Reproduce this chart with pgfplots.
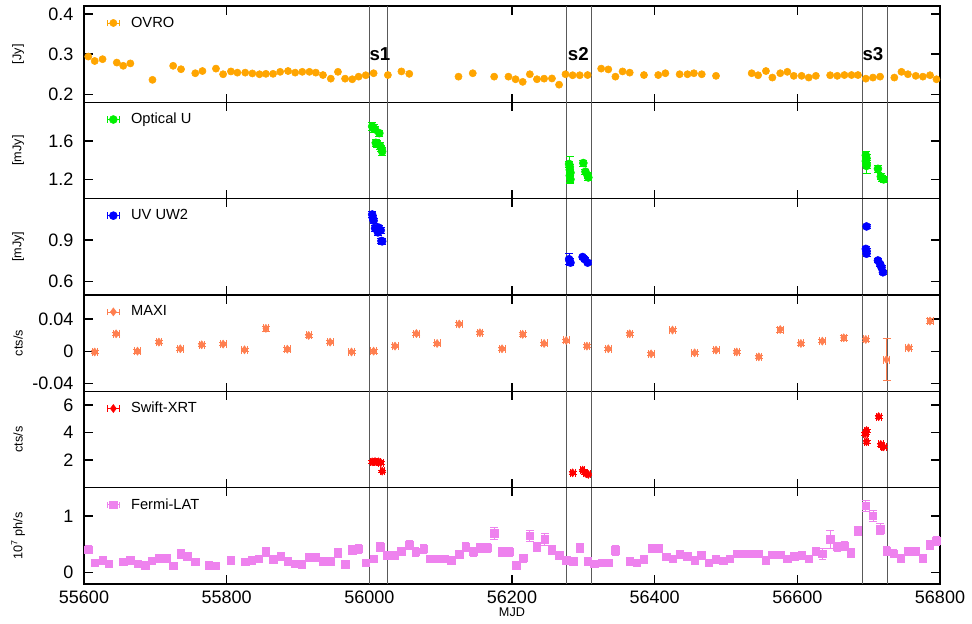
\documentclass[border=0pt]{standalone}
\usepackage{fontspec}
\setmainfont{Liberation Sans}
\usepackage{pgfplots}
\pgfplotsset{compat=1.18}

\definecolor{covro}{RGB}{255,165,0}
\definecolor{copt}{RGB}{0,240,0}
\definecolor{cuv}{RGB}{0,0,255}
\definecolor{cmaxi}{RGB}{255,127,80}
\definecolor{cxrt}{RGB}{255,0,0}
\definecolor{clat}{RGB}{238,130,238}

\pgfplotsset{
  errleg/.style={legend image code/.code={%
      \draw[#1,line width=0.6pt] (0pt,0pt) -- (9pt,0pt) (0pt,-2.5pt) -- (0pt,2.5pt) (9pt,-2.5pt) -- (9pt,2.5pt);
      \draw[##1] plot coordinates {(4.5pt,0pt)};}},
  panel/.style={
    scale only axis, width=642pt, height=72.25pt,
    xmin=55600, xmax=56800,
    xtick={55600,55800,...,56800},
    xticklabels={},
    scaled ticks=false,
    tick align=inside, tick pos=both,
    major tick length=6.5pt,
    axis line style={line width=1.2pt},
    every tick/.style={black, line width=1pt},
    minor tick num=0,
    /pgf/number format/assume math mode=true,
    /pgf/number format/1000 sep={},
    tick label style={font=\fontsize{13.5}{16}\selectfont},
    yticklabel style={xshift=-4.5pt, /pgf/number format/fixed},
    ylabel style={font=\fontsize{9.5}{11}\selectfont, at={(axis description cs:-0.077,0.5)}, anchor=center},
    legend style={at={(axis description cs:0.0265,0.89)}, anchor=north west, draw=none, fill=none,
      font=\fontsize{11}{13}\selectfont, inner sep=0pt, nodes={inner sep=0pt}, column sep=8.5pt},
    extra x ticks={56000,56025,56276,56311,56691,56726},
    extra x tick labels={},
    extra x tick style={grid=major, major grid style={black!65, line width=0.6pt}, major tick length=0pt},
  }
}

\begin{document}
\begin{tikzpicture}
\path[use as bounding box] (0,0) rectangle (729pt,-468pt);

% ---------- OVRO ----------
\begin{axis}[panel, name=p1, at={(63pt,-4.5pt)}, anchor=north west,
  ymin=0.18, ymax=0.42, ytick={0.2,0.3,0.4}, ylabel={[Jy]}, errleg=covro]
\addplot[only marks, mark=*, color=covro, mark size=2.7pt] table {
55606 0.294
55615 0.283
55626 0.2875
55646 0.279
55655 0.271
55665 0.277
55696 0.236
55725 0.271
55736 0.2625
55756 0.2525
55766 0.258
55785 0.264
55795 0.25
55806 0.257
55815 0.254
55826 0.254
55836 0.252
55846 0.25
55855 0.251
55865 0.251
55875 0.256
55886 0.258
55896 0.254
55906 0.256
55916 0.256
55925 0.254
55935 0.248
55946 0.239
55956 0.256
55966 0.239
55976 0.2375
55985 0.244
55995 0.2475
56006 0.2525
56026 0.248
56045 0.257
56056 0.251
56125 0.244
56145 0.2525
56175 0.244
56195 0.244
56205 0.2375
56215 0.231
56225 0.25
56235 0.2375
56245 0.239
56256 0.2395
56266 0.224
56275 0.25
56285 0.2475
56295 0.2475
56306 0.248
56325 0.264
56335 0.262
56345 0.244
56355 0.257
56365 0.254
56385 0.248
56405 0.248
56415 0.2525
56435 0.25
56446 0.25
56455 0.2525
56466 0.25
56486 0.246
56536 0.2525
56545 0.2475
56556 0.258
56565 0.2417
56576 0.2525
56586 0.256
56595 0.246
56606 0.246
56616 0.2417
56626 0.246
56646 0.2475
56656 0.246
56666 0.248
56676 0.248
56685 0.248
56696 0.239
56706 0.2417
56716 0.244
56736 0.2417
56746 0.256
56755 0.25
56766 0.246
56776 0.244
56786 0.2475
56795 0.2375
};
\addlegendentry{OVRO}
\node[anchor=base west, inner sep=0pt, font=\bfseries\fontsize{14}{16}\selectfont] at (axis cs:56000,0.283) {s1};
\node[anchor=base west, inner sep=0pt, font=\bfseries\fontsize{14}{16}\selectfont] at (axis cs:56278,0.283) {s2};
\node[anchor=base west, inner sep=0pt, font=\bfseries\fontsize{14}{16}\selectfont] at (axis cs:56691,0.283) {s3};
\end{axis}

% ---------- Optical U ----------
\begin{axis}[panel, name=p2, at={(p1.south west)}, anchor=north west,
  ymin=1.0, ymax=2.0, ytick={1.2,1.6}, ylabel={[mJy]}, errleg=copt]
\addplot[only marks, mark=*, color=copt, mark size=3pt,
  error bars/.cd, y dir=both, y explicit, error bar style={line width=0.6pt}]
  table[x index=0, y index=1, y error index=2] {
56004 1.75 0.04
56006 1.73 0.04
56008 1.72 0.03
56014 1.68 0.03
56009 1.58 0.04
56011 1.57 0.04
56015 1.55 0.04
56017 1.52 0.03
56018 1.49 0.04
56280 1.36 0.03
56281 1.33 0.03
56281 1.30 0.14
56282 1.27 0.03
56281 1.24 0.03
56282 1.20 0.03
56300 1.37 0.03
56303 1.28 0.03
56306 1.24 0.03
56307 1.22 0.03
56696 1.45 0.04
56697 1.42 0.04
56696 1.39 0.04
56697 1.36 0.04
56697 1.34 0.08
56713 1.31 0.04
56717 1.23 0.03
56719 1.21 0.03
56721 1.20 0.03
};
\addlegendentry{Optical U}
\end{axis}

% ---------- UV UW2 ----------
\begin{axis}[panel, name=p3, at={(p2.south west)}, anchor=north west,
  ymin=0.5, ymax=1.2, ytick={0.6,0.9}, ylabel={[mJy]}, errleg=cuv]
\addplot[only marks, mark=*, color=cuv, mark size=3pt,
  error bars/.cd, y dir=both, y explicit, error bar style={line width=0.6pt}]
  table[x index=0, y index=1, y error index=2] {
56004 1.085 0.02
56005 1.06 0.02
56006 1.04 0.02
56008 0.985 0.02
56013 0.99 0.02
56012 0.955 0.02
56016 0.97 0.02
56017 0.893 0.02
56018 0.89 0.02
56280 0.76 0.04
56281 0.745 0.02
56282 0.735 0.02
56299 0.776 0.015
56302 0.76 0.015
56306 0.735 0.015
56697 0.998 0.015
56696 0.835 0.02
56697 0.82 0.02
56697 0.80 0.02
56713 0.751 0.015
56716 0.725 0.015
56718 0.70 0.015
56720 0.665 0.015
};
\addlegendentry{UV UW2}
\end{axis}

% ---------- MAXI ----------
\begin{axis}[panel, name=p4, at={(p3.south west)}, anchor=north west,
  ymin=-0.05, ymax=0.07, ytick={-0.04,0,0.04}, ylabel={cts/s}, errleg=cmaxi]
\addplot[only marks, mark=diamond*, color=cmaxi, mark size=3pt,
  error bars/.cd, y dir=both, y explicit, x dir=both, x fixed=4, error bar style={line width=0.6pt}]
  table[x index=0, y index=1, y error index=2] {
55615 -0.001 0.002
55645 0.0217 0.002
55675 0.0 0.002
55705 0.0113 0.002
55735 0.003 0.002
55765 0.008 0.002
55795 0.0088 0.002
55825 0.0017 0.002
55855 0.0284 0.003
55885 0.0025 0.002
55915 0.0196 0.002
55945 0.0113 0.002
55975 -0.001 0.002
56006 0.0 0.003
56036 0.0063 0.002
56066 0.022 0.002
56095 0.0096 0.002
56126 0.0338 0.002
56155 0.023 0.002
56186 0.003 0.002
56215 0.021 0.002
56245 0.0096 0.002
56276 0.0134 0.002
56305 0.0063 0.002
56335 0.003 0.002
56365 0.0217 0.002
56395 -0.0033 0.002
56425 0.0263 0.002
56456 -0.002 0.002
56486 0.0013 0.002
56515 -0.001 0.002
56546 -0.007 0.002
56576 0.027 0.003
56605 0.0096 0.002
56635 0.0125 0.002
56665 0.0167 0.003
56696 0.0146 0.002
56725 -0.0104 0.026
56756 0.0042 0.002
56786 0.0375 0.003
};
\addlegendentry{MAXI}
\end{axis}

% ---------- Swift-XRT ----------
\begin{axis}[panel, name=p5, at={(p4.south west)}, anchor=north west,
  ymin=0, ymax=7, ytick={2,4,6}, ylabel={cts/s}, errleg=cxrt]
\addplot[only marks, mark=diamond*, color=cxrt, mark size=3pt,
  error bars/.cd, y dir=both, y explicit, x dir=both, x fixed=3, error bar style={line width=0.6pt}]
  table[x index=0, y index=1, y error index=2] {
56004 1.88 0.08
56008 1.90 0.08
56013 1.88 0.08
56016 1.81 0.08
56018 1.20 0.08
56285 1.08 0.08
56299 1.27 0.08
56303 1.05 0.08
56307 0.96 0.08
56696 4.00 0.12
56697 4.15 0.12
56695 3.92 0.10
56697 3.34 0.10
56714 5.16 0.12
56717 3.14 0.10
56719 3.00 0.10
56721 2.97 0.10
};
\addlegendentry{Swift-XRT}
\end{axis}

% ---------- Fermi-LAT ----------
\begin{axis}[panel, name=p6, at={(p5.south west)}, anchor=north west,
  ymin=-0.2, ymax=1.5, ytick={0,1}, ylabel={10\textsuperscript{7} ph/s}, errleg=clat,
  xticklabels={55600,55800,56000,56200,56400,56600,56800},
  xticklabel style={yshift=-1.7pt},
  xlabel={MJD}, xlabel style={font=\fontsize{9.5}{11}\selectfont, at={(axis description cs:0.5,-0.29)}, anchor=center}]
\addplot[only marks, mark=square*, color=clat, mark size=2.8pt,
  error bars/.cd, y dir=both, y explicit, error bar style={line width=0.6pt}]
  table[x index=0, y index=1, y error index=2] {
55606 0.408 0.07
55615 0.178 0.05
55626 0.218 0.06
55635 0.16 0.05
55655 0.188 0.05
55665 0.218 0.06
55675 0.16 0.05
55686 0.13 0.05
55695 0.206 0.06
55705 0.26 0.07
55715 0.26 0.07
55725 0.118 0.05
55736 0.337 0.08
55745 0.29 0.07
55756 0.188 0.06
55775 0.13 0.05
55785 0.118 0.05
55806 0.218 0.07
55826 0.188 0.06
55835 0.218 0.06
55845 0.249 0.06
55855 0.366 0.08
55865 0.236 0.06
55876 0.29 0.07
55886 0.2 0.06
55896 0.16 0.05
55905 0.147 0.05
55916 0.277 0.07
55925 0.277 0.07
55935 0.2 0.06
55945 0.2 0.06
55956 0.355 0.08
55966 0.147 0.05
55976 0.396 0.08
55985 0.426 0.08
55995 0.17 0.05
56006 0.249 0.06
56015 0.455 0.08
56025 0.307 0.07
56035 0.307 0.07
56045 0.378 0.07
56056 0.485 0.08
56065 0.366 0.08
56076 0.426 0.08
56085 0.249 0.06
56095 0.249 0.06
56105 0.249 0.06
56115 0.218 0.06
56126 0.325 0.07
56135 0.455 0.08
56146 0.366 0.08
56155 0.437 0.08
56165 0.437 0.08
56175 0.693 0.1
56186 0.366 0.08
56196 0.366 0.08
56206 0.13 0.05
56216 0.26 0.07
56225 0.65 0.1
56235 0.455 0.08
56246 0.59 0.1
56256 0.396 0.08
56266 0.307 0.07
56276 0.218 0.06
56286 0.2 0.06
56295 0.437 0.08
56306 0.2 0.06
56315 0.16 0.05
56326 0.17 0.05
56336 0.17 0.05
56345 0.396 0.09
56365 0.2 0.06
56375 0.17 0.05
56385 0.236 0.06
56396 0.437 0.07
56406 0.426 0.07
56416 0.277 0.06
56425 0.249 0.06
56435 0.325 0.06
56446 0.29 0.06
56456 0.218 0.06
56465 0.307 0.06
56476 0.178 0.05
56486 0.236 0.06
56496 0.206 0.06
56505 0.249 0.06
56516 0.337 0.06
56525 0.337 0.06
56536 0.337 0.06
56546 0.337 0.06
56556 0.218 0.06
56565 0.32 0.06
56576 0.32 0.06
56586 0.249 0.06
56596 0.29 0.06
56606 0.307 0.06
56616 0.249 0.06
56626 0.384 0.07
56635 0.337 0.1
56646 0.586 0.16
56656 0.455 0.08
56666 0.473 0.08
56675 0.349 0.08
56685 0.74 0.08
56696 1.183 0.1
56706 1.005 0.09
56716 0.769 0.1
56725 0.384 0.08
56735 0.337 0.07
56745 0.26 0.07
56755 0.384 0.07
56765 0.384 0.07
56776 0.26 0.07
56786 0.497 0.08
56795 0.561 0.08
};
\addlegendentry{Fermi-LAT}
\end{axis}
\end{tikzpicture}
\end{document}
